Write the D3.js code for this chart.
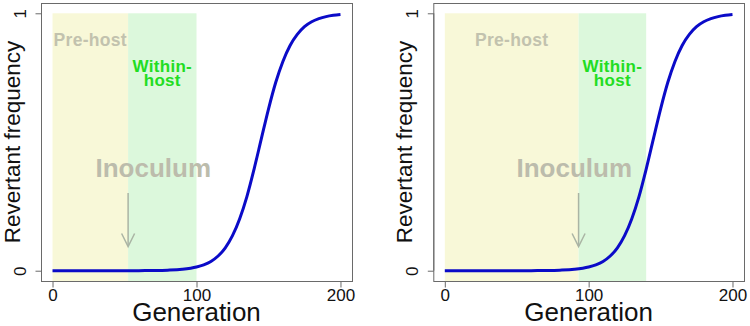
<!DOCTYPE html>
<html><head><meta charset="utf-8">
<script src="https://cdn.jsdelivr.net/npm/d3@7"></script>
<style>
html,body{margin:0;padding:0;background:#fff;}
svg{display:block;font-family:"Liberation Sans",Arial,sans-serif;}
</style></head>
<body>
<svg id="chart" width="750" height="326"></svg>
<script>
// ---- data ----
const generations = [0,10,20,30,40,50,60,70,80,90,100,105,110,115,120,125,130,135,140,145,150,155,160,165,170,175,180,185,190,195,200];
const leftFrequency  = [0,0,0,0,0.0001,0.0001,0.0003,0.0008,0.0022,0.0056,0.0144,0.023,0.036,0.057,0.089,0.136,0.202,0.288,0.395,0.512,0.628,0.731,0.813,0.875,0.918,0.948,0.967,0.979,0.987,0.992,0.995];
const rightFrequency = [0,0,0,0,0.0001,0.0001,0.0003,0.0008,0.0022,0.0056,0.0144,0.023,0.036,0.057,0.089,0.136,0.202,0.288,0.395,0.512,0.628,0.731,0.813,0.875,0.918,0.948,0.967,0.979,0.987,0.992,0.995];
const xTicks = [0,100,200];
const yTicks = [0,1];
const panelNames = ["left","right"];
const preHostEnd = [52.5, 93];       // generation where pre-host ends (inoculation)
const withinHostEnd = [100, 140];    // generation where within-host shading ends
const inoculumLabelX = [70, 90];     // generation at which "Inoculum" label is centred
const xLabel = "Generation";
const yLabel = "Revertant frequency";

const panels = [
  {left:41, right:352, freq:leftFrequency},
  {left:433.3, right:744, freq:rightFrequency}
];
const plotTop = 3, plotBottom = 281;

const svg = d3.select("#chart");

panels.forEach((p, i) => {
  const x = d3.scaleLinear().domain([-8, 208]).range([p.left, p.right]);
  const y = d3.scaleLinear().domain([-0.04, 1.04]).range([plotBottom, plotTop]);
  const g = svg.append("g");

  // shading
  g.append("rect")
    .attr("x", x(0)).attr("y", y(1))
    .attr("width", x(preHostEnd[i]) - x(0))
    .attr("height", y(-0.04) - y(1))
    .attr("fill", "#f8f8d8");
  g.append("rect")
    .attr("x", x(preHostEnd[i])).attr("y", y(1))
    .attr("width", x(withinHostEnd[i]) - x(preHostEnd[i]))
    .attr("height", y(-0.04) - y(1))
    .attr("fill", "#dcf8dc");

  // labels
  g.append("text")
    .attr("x", x(preHostEnd[i] / 2)).attr("y", 45.5)
    .attr("text-anchor", "middle")
    .attr("font-weight", "bold").attr("font-size", "17.5px")
    .attr("letter-spacing", "0.3px")
    .attr("fill", "#c2c2ae")
    .text("Pre-host");
  const wx = x((preHostEnd[i] + withinHostEnd[i]) / 2);
  g.append("text")
    .attr("x", wx).attr("y", 71.5)
    .attr("text-anchor", "middle")
    .attr("font-weight", "bold").attr("font-size", "17px")
    .attr("letter-spacing", "0.3px")
    .attr("fill", "#22dd22").text("Within-");
  g.append("text")
    .attr("x", wx).attr("y", 85.5)
    .attr("text-anchor", "middle")
    .attr("font-weight", "bold").attr("font-size", "17px")
    .attr("letter-spacing", "0.3px")
    .attr("fill", "#22dd22").text("host");

  g.append("text")
    .attr("x", x(inoculumLabelX[i])).attr("y", 177)
    .attr("text-anchor", "middle")
    .attr("font-weight", "bold").attr("font-size", "26px")
    .attr("fill", "#bcbcac")
    .text("Inoculum");

  // arrow
  const ax = x(preHostEnd[i]);
  g.append("line").attr("x1", ax).attr("x2", ax).attr("y1", 193).attr("y2", 246)
    .attr("stroke", "#aab4a4").attr("stroke-width", 1.5);
  g.append("path")
    .attr("d", `M${ax-6.5},${233.5}L${ax},${246.5}L${ax+6.5},${233.5}`)
    .attr("fill", "none").attr("stroke", "#aab4a4").attr("stroke-width", 1.5);

  // curve
  const data = generations.map((gv, k) => [gv, p.freq[k]]);
  g.append("path")
    .datum(data)
    .attr("d", d3.line().x(d => x(d[0])).y(d => y(d[1])).curve(d3.curveMonotoneX))
    .attr("fill", "none").attr("stroke", "#0b0bc8").attr("stroke-width", 3);

  // box
  g.append("rect")
    .attr("x", p.left + 0.5).attr("y", plotTop + 0.5)
    .attr("width", p.right - p.left).attr("height", plotBottom - plotTop)
    .attr("fill", "none").attr("stroke", "#6a6a6a").attr("stroke-width", 1);

  // x axis
  const xa = g.append("g").attr("transform", `translate(0,${plotBottom + 0.5})`)
    .call(d3.axisBottom(x).tickValues(xTicks).tickSize(6).tickPadding(2).tickFormat(d3.format("d")));
  xa.select(".domain").attr("stroke", "#6a6a6a")
    .attr("d", `M${x(0)},0H${x(200)}`);
  xa.selectAll(".tick line").attr("stroke", "#6a6a6a");
  xa.selectAll(".tick text").attr("font-size", "17px").attr("fill", "#111")
    .attr("font-family", "Liberation Sans, Arial, sans-serif").attr("dy", "0.66em");

  // y axis
  const ya = g.append("g").attr("transform", `translate(${p.left + 0.5},0)`)
    .call(d3.axisLeft(y).tickValues(yTicks).tickSize(6).tickFormat(d3.format("d")));
  ya.select(".domain").attr("stroke", "#6a6a6a")
    .attr("d", `M0,${y(0)}V${y(1)}`);
  ya.selectAll(".tick line").attr("stroke", "#6a6a6a");
  ya.selectAll(".tick text")
    .attr("font-size", "17px").attr("fill", "#111")
    .attr("font-family", "Liberation Sans, Arial, sans-serif")
    .attr("text-anchor", "middle")
    .attr("x", 0).attr("dy", 0)
    .attr("transform", "translate(-15.5,0) rotate(-90)");

  // axis titles
  svg.append("text")
    .attr("x", x(100)).attr("y", 320.5)
    .attr("text-anchor", "middle").attr("font-size", "26px").attr("fill", "#111")
    .text(xLabel);
  svg.append("text")
    .attr("transform", `translate(${p.left - 21.5},${142}) rotate(-90)`)
    .attr("text-anchor", "middle").attr("font-size", "22.5px").attr("fill", "#111")
    .text(yLabel);
});
</script>
</body></html>
